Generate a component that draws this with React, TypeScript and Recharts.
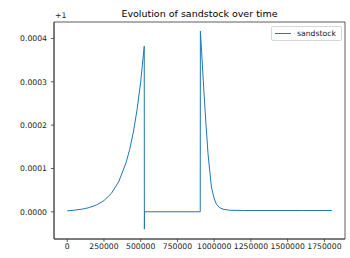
import React from "react";
import { LineChart, Line, XAxis, YAxis, ReferenceArea, Legend } from "recharts";

const times = [0, 50000, 100000, 150000, 200000, 250000, 300000, 350000, 400000, 425000, 450000, 475000, 500000, 524000, 525000, 526000, 905000, 906000, 915000, 928000, 942000, 958000, 981000, 1000000, 1015000, 1035000, 1060000, 1105000, 1200000, 1400000, 1600000, 1800000];
const sandstock = [0.0000022, 0.0000037, 0.000006, 0.0000097, 0.0000159, 0.0000259, 0.0000423, 0.000069, 0.000113, 0.000144, 0.000184, 0.000235, 0.0003, 0.000382, -0.00004, 0, 0, 0.000417, 0.000367, 0.000289, 0.000212, 0.000134, 0.000057, 0.00003, 0.000018, 0.00001, 0.000006, 0.0000035, 0.000003, 0.000003, 0.000003, 0.000003];
const xTicks = [0, 250000, 500000, 750000, 1000000, 1250000, 1500000, 1750000];
const yTicks = [0, 0.0001, 0.0002, 0.0003, 0.0004];
const xDomain: [number, number] = [-90000, 1890000];
const yDomain: [number, number] = [-0.0000628, 0.000438];
const seriesName = "sandstock";
const title = "Evolution of sandstock over time";
const offsetLabel = "+1";

const data = times.map((t, i) => ({ t, v: sandstock[i] }));

const FONT = "'DejaVu Sans', sans-serif";
const tickStyle = { fontFamily: FONT, fontSize: 7.7, fill: "#222" };

const LegendBox = () => (
  <div
    style={{
      border: "1px solid #d6d6d6",
      borderRadius: 2,
      background: "#fff",
      width: 71,
      height: 15,
      boxSizing: "border-box",
      position: "relative",
      fontFamily: FONT,
      fontSize: 7.7,
      color: "#222",
    }}
  >
    <div style={{ position: "absolute", left: 3, top: 6, width: 16, height: 1, background: "#1f77b4" }} />
    <div style={{ position: "absolute", left: 25, top: 1, lineHeight: "11px", whiteSpace: "nowrap" }}>{seriesName}</div>
  </div>
);

export default function App() {
  return (
    <div style={{ position: "fixed", left: 0, top: 0, width: 350, height: 258, background: "#fff" }}>
      <LineChart width={350} height={258} data={data} margin={{ top: 22, right: 5, bottom: 0, left: 0 }}>
        <XAxis
          dataKey="t"
          type="number"
          domain={xDomain}
          ticks={xTicks}
          allowDataOverflow
          height={19}
          tick={tickStyle}
          tickSize={3}
          tickMargin={2}
          tickLine={{ stroke: "#333", strokeWidth: 0.8 }}
          axisLine={{ stroke: "#333", strokeWidth: 0.8 }}
          interval={0}
          tickFormatter={(v: number) => String(v)}
        />
        <YAxis
          type="number"
          domain={yDomain}
          ticks={yTicks}
          allowDataOverflow
          width={54}
          tick={tickStyle}
          tickSize={3}
          tickMargin={4}
          tickLine={{ stroke: "#333", strokeWidth: 0.8 }}
          axisLine={{ stroke: "#333", strokeWidth: 0.8 }}
          interval={0}
          tickFormatter={(v: number) => v.toFixed(4)}
        />
        <ReferenceArea
          x1={xDomain[0]}
          x2={xDomain[1]}
          y1={yDomain[0]}
          y2={yDomain[1]}
          fill="none"
          stroke="#333"
          strokeWidth={0.8}
          ifOverflow="visible"
        />
        <Line
          dataKey="v"
          name={seriesName}
          type="linear"
          stroke="#1f77b4"
          strokeWidth={1}
          dot={false}
          isAnimationActive={false}
        />
        <Legend
          layout="horizontal"
          verticalAlign="middle"
          align="center"
          content={() => <LegendBox />}
          wrapperStyle={{ top: 26, left: 271, width: 71, height: 15 }}
        />
        <text x={199.5} y={17} textAnchor="middle" style={{ fontFamily: FONT, fontSize: 9.5, fill: "#000" }}>
          {title}
        </text>
        <text x={55} y={18} textAnchor="start" style={{ fontFamily: FONT, fontSize: 7.7, fill: "#222" }}>
          {offsetLabel}
        </text>
      </LineChart>
    </div>
  );
}
